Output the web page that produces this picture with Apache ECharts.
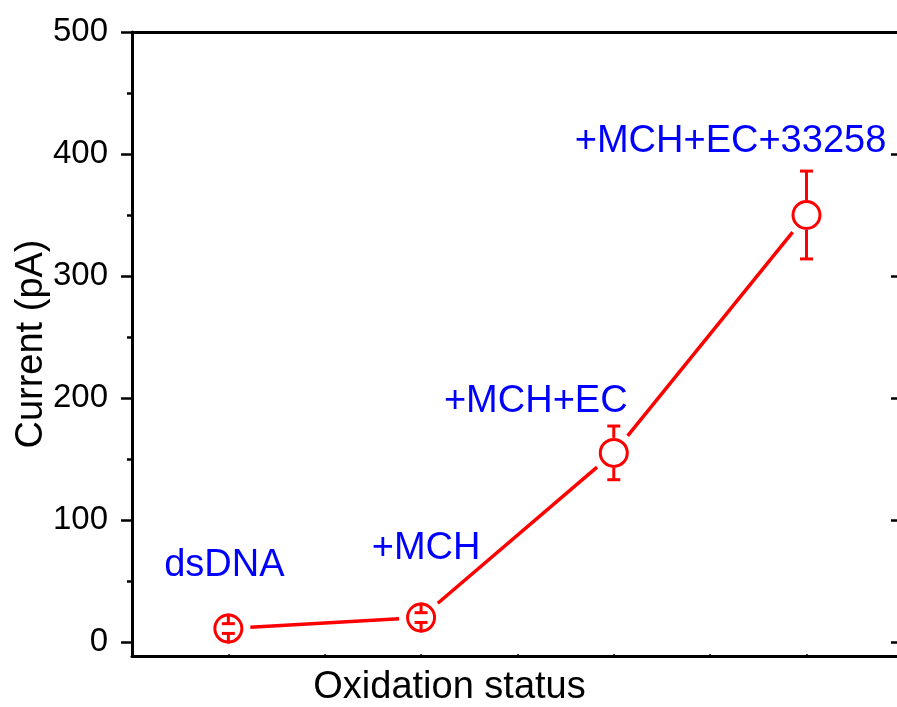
<!DOCTYPE html>
<html>
<head>
<meta charset="utf-8">
<script src="https://cdn.jsdelivr.net/npm/echarts@6/dist/echarts.min.js"></script>
<style>
html, body { margin: 0; padding: 0; background: #fff; overflow: hidden; }
#chart { width: 897px; height: 707px; }
</style>
</head>
<body>
<div id="chart"></div>
<script>
// Measured current for each modification step
const categories = ['dsDNA', '+MCH', '+MCH+EC', '+MCH+EC+33258'];
const current = [11, 20, 155, 350];
const currentErr = [4, 4, 22, 36];
const majorTicks = [0, 100, 200, 300, 400, 500];
const minorTicks = [50, 150, 250, 350, 450];

const RED = '#ff0000';
const BLUE = '#0000ff';
const FONT = 'Arial, "Liberation Sans", sans-serif';
const R_OUT = 15;      // outer radius of the hollow markers
const LINE_GAP = 22;   // connecting line stops short of each marker
const CAP_HALF = 6.5;  // half width of error bar caps
const labelOffsets = [[-4, -63], [5, -69], [-78, -51], [-76, -73]];

const points = current.map((v, i) => [i + 1, v]);

const chart = echarts.init(document.getElementById('chart'), null, { renderer: 'canvas', width: 897, height: 707 });

const yRange = { type: 'value', min: -11.5, max: 500, splitLine: { show: false } };
const xRange = { type: 'value', min: 0.5, max: 4.48, interval: 0.5, splitLine: { show: false } };
const axisLineStyle = { show: true, onZero: false, lineStyle: { color: '#000', width: 3 } };

chart.setOption({
  animation: false,
  backgroundColor: '#fff',
  grid: { left: 132, width: 767, top: 32, bottom: 51, containLabel: false, outerBoundsMode: 'none' },
  xAxis: [
    Object.assign({}, xRange, {
      position: 'bottom',
      axisLine: axisLineStyle,
      axisTick: { show: true, inside: true, length: 2, lineStyle: { color: '#000', width: 1.5 } },
      axisLabel: { show: false },
      name: 'Oxidation status',
      nameLocation: 'middle',
      nameGap: 13,
      nameMoveOverlap: false,
      nameTextStyle: { fontFamily: FONT, fontSize: 38, color: '#000', padding: [0, 132, 0, 0] }
    }),
    Object.assign({}, xRange, {
      position: 'top',
      axisLine: axisLineStyle,
      axisTick: { show: true, inside: true, length: 2, lineStyle: { color: '#000', width: 1.5 } },
      axisLabel: { show: false }
    })
  ],
  yAxis: [
    Object.assign({}, yRange, {
      position: 'left',
      axisLine: axisLineStyle,
      axisTick: { show: true, customValues: majorTicks, length: 11, lineStyle: { color: '#000', width: 2.5 } },
      axisLabel: { customValues: majorTicks, margin: 24, fontFamily: FONT, fontSize: 33, color: '#000' },
      name: 'Current (pA)',
      nameLocation: 'middle',
      nameGap: 81,
      nameMoveOverlap: false,
      nameTextStyle: { fontFamily: FONT, fontSize: 38, color: '#000' }
    }),
    Object.assign({}, yRange, {
      position: 'left',
      axisLine: { show: false, onZero: false },
      axisTick: { show: true, customValues: minorTicks, length: 5, lineStyle: { color: '#000', width: 2.5 } },
      axisLabel: { show: false }
    }),
    Object.assign({}, yRange, {
      // right frame edge: only its inward ticks are drawn
      position: 'right',
      axisLine: { show: false, onZero: false, lineStyle: { color: 'rgba(0,0,0,0)', width: 0 } },
      axisTick: { show: true, inside: true, customValues: majorTicks, length: 8, lineStyle: { color: '#000', width: 2.5 } },
      axisLabel: { show: false }
    })
  ],
  series: [
    {
      // connecting segments, trimmed so they do not touch the markers
      type: 'custom',
      z: 2,
      clip: false,
      data: points,
      encode: { x: 0, y: 1 },
      renderItem: function (params, api) {
        const i = params.dataIndex;
        if (i >= current.length - 1) return { type: 'group', children: [] };
        const a = api.coord([i + 1, current[i]]);
        const b = api.coord([i + 2, current[i + 1]]);
        const dx = b[0] - a[0], dy = b[1] - a[1];
        const len = Math.hypot(dx, dy);
        const ux = dx / len, uy = dy / len;
        return {
          type: 'line',
          shape: {
            x1: a[0] + ux * LINE_GAP, y1: a[1] + uy * LINE_GAP,
            x2: b[0] - ux * LINE_GAP, y2: b[1] - uy * LINE_GAP
          },
          style: { stroke: RED, lineWidth: 3.5 }
        };
      }
    },
    {
      type: 'scatter',
      z: 3,
      symbol: 'circle',
      symbolSize: 27,
      itemStyle: { color: '#fff', borderColor: RED, borderWidth: 3, opacity: 1 },
      data: points.map((p, i) => ({
        value: p,
        name: categories[i],
        label: { offset: labelOffsets[i] }
      })),
      label: {
        show: true,
        position: 'inside',
        formatter: (p) => p.name,
        fontFamily: FONT,
        fontSize: 38,
        color: BLUE
      },
      emphasis: { disabled: true }
    },
    {
      // error bars run outward from the marker edge to the capped ends
      type: 'custom',
      z: 4,
      clip: false,
      data: points,
      encode: { x: 0, y: 1 },
      renderItem: function (params, api) {
        const i = params.dataIndex;
        const c = api.coord([i + 1, current[i]]);
        const top = api.coord([i + 1, current[i] + currentErr[i]]);
        const bot = api.coord([i + 1, current[i] - currentErr[i]]);
        const st = { stroke: RED, lineWidth: 3 };
        return {
          type: 'group',
          children: [
            { type: 'line', shape: { x1: c[0], y1: c[1] - R_OUT, x2: c[0], y2: top[1] }, style: st },
            { type: 'line', shape: { x1: c[0] - CAP_HALF, y1: top[1], x2: c[0] + CAP_HALF, y2: top[1] }, style: st },
            { type: 'line', shape: { x1: c[0], y1: c[1] + R_OUT, x2: c[0], y2: bot[1] }, style: st },
            { type: 'line', shape: { x1: c[0] - CAP_HALF, y1: bot[1], x2: c[0] + CAP_HALF, y2: bot[1] }, style: st }
          ]
        };
      }
    }
  ]
});
</script>
</body>
</html>
